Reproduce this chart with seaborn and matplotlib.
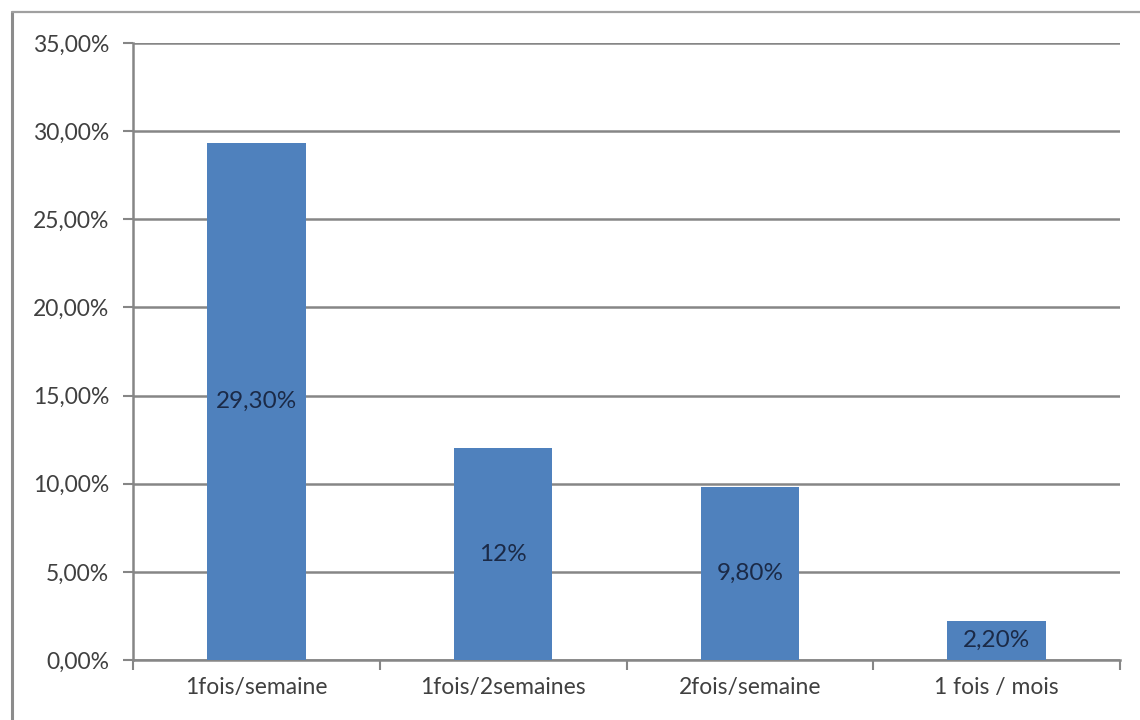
import matplotlib
matplotlib.use("Agg")
import matplotlib.pyplot as plt
from matplotlib.lines import Line2D
from matplotlib.ticker import FixedLocator
import seaborn as sns
import pandas as pd

# Fréquence déclarée
categories = ["1fois/semaine", "1fois/2semaines", "2fois/semaine", "1 fois / mois"]
values = [29.30, 12.0, 9.80, 2.20]
value_labels = ["29,30%", "12%", "9,80%", "2,20%"]
y_ticks = [0, 5, 10, 15, 20, 25, 30, 35]
y_tick_labels = ["0,00%", "5,00%", "10,00%", "15,00%", "20,00%", "25,00%", "30,00%", "35,00%"]

sns.set_theme(style="white")
plt.rcParams["font.family"] = ["Lato", "DejaVu Sans"]

df = pd.DataFrame({"cat": categories, "val": values})

fig = plt.figure(figsize=(11.4, 7.2), dpi=100)
ax = fig.add_axes([133 / 1140, 1 - 660 / 720, (1120 - 133) / 1140, (660 - 43) / 720])

bar_color = "#4f81bd"
grid_color = "#868686"
text_color = "#404040"

sns.barplot(data=df, x="cat", y="val", color=bar_color, width=0.4,
            saturation=1, linewidth=0, edgecolor=bar_color, ax=ax, zorder=3)

ax.set_ylim(0, 35)
ax.set_xlim(-0.5, len(categories) - 0.5)
ax.set_yticks(y_ticks)
ax.set_yticklabels(y_tick_labels)
ax.set_xlabel("")
ax.set_ylabel("")

# horizontal gridlines
ax.yaxis.grid(True, color=grid_color, linewidth=1.8, zorder=0)
ax.xaxis.grid(False)

for side in ["top", "right"]:
    ax.spines[side].set_visible(False)
for side in ["left", "bottom"]:
    ax.spines[side].set_color(grid_color)
    ax.spines[side].set_linewidth(1.8)

ax.tick_params(axis="y", which="major", direction="out", length=7, width=1.5,
               color=grid_color, labelsize=16.5, labelcolor=text_color, pad=10, left=True)
# category separators on the x axis
ax.xaxis.set_minor_locator(FixedLocator([i - 0.5 for i in range(len(categories) + 1)]))
ax.tick_params(axis="x", which="minor", direction="out", length=7, width=1.5,
               color=grid_color, bottom=True)
ax.tick_params(axis="x", which="major", length=0, labelsize=16.5,
               labelcolor=text_color, pad=12)

# value labels centred inside the bars
for i, (v, lab) in enumerate(zip(values, value_labels)):
    ax.text(i, v / 2, lab, ha="center", va="center", fontsize=17.5,
            color="#1b2a47", zorder=4)

# outer chart frame (left and top edges)
fig.add_artist(Line2D([12 / 1140, 12 / 1140], [0, 1 - 12 / 720],
                      transform=fig.transFigure, color="#8c8c8c", linewidth=2.2))
fig.add_artist(Line2D([12 / 1140, 1], [1 - 12 / 720, 1 - 12 / 720],
                      transform=fig.transFigure, color="#a0a0a0", linewidth=1.6))

fig.savefig("out.png", dpi=100, facecolor="white")
